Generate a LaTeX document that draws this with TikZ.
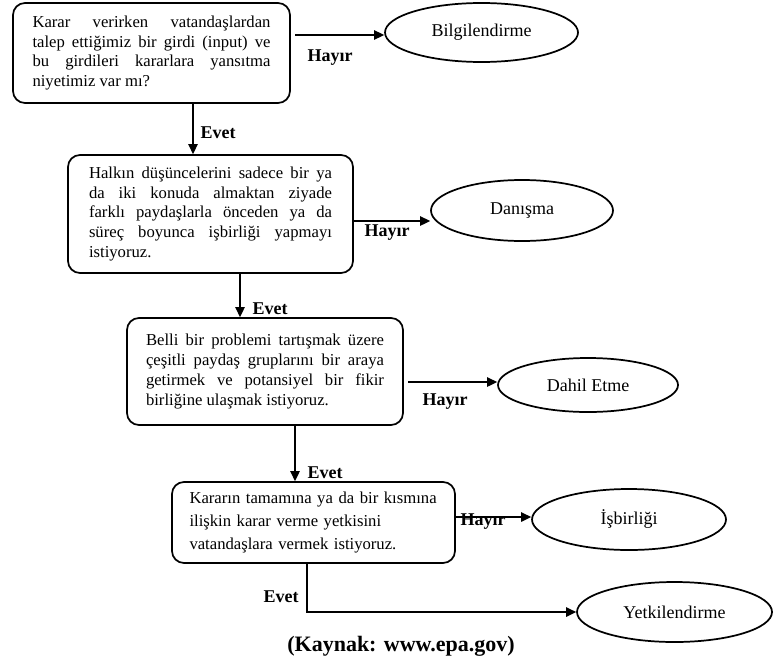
\documentclass[tikz,border=0pt]{standalone}
\usepackage{fontspec}
\setmainfont{Liberation Serif}
\usetikzlibrary{shapes.geometric,arrows.meta}

\def\px{.75pt}
\def\lw{1.3pt}
\def\metin{\fontsize{12.5}{14.8}\selectfont}
\def\elipsf{\fontsize{13.5}{16}\selectfont}
\def\etiketf{\fontsize{13.5}{16}\selectfont\bfseries}

\begin{document}
\begin{tikzpicture}[x=\px, y=-\px,
  kutu/.style={draw, line width=\lw, rounded corners=9pt, inner sep=0pt, font=\metin},
  elips/.style={draw, ellipse, line width=\lw, inner sep=0pt, font=\elipsf},
  ok/.style={line width=\lw, -{Triangle[length=7.5pt,width=7pt]}},
  etiket/.style={font=\etiketf, inner sep=0pt}]
\useasboundingbox (0,0) rectangle (773,660);

\node[kutu, minimum width=207.75pt, minimum height=75pt, text width=178.5pt, align=justify]
  (soru1) at (151.5,53) {Karar verirken vatandaşlardan\linebreak talep ettiğimiz bir girdi (input) ve\linebreak bu girdileri kararlara yansıtma\linebreak niyetimiz var mı?};
\node[kutu, minimum width=213.75pt, minimum height=88.5pt, text width=182.25pt, align=justify]
  (soru2) at (210.5,214) {Halkın düşüncelerini sadece bir ya\linebreak da iki konuda almaktan ziyade\linebreak farklı paydaşlarla önceden ya da\linebreak süreç boyunca işbirliği yapmayı\linebreak istiyoruz.};
\node[kutu, minimum width=207pt, minimum height=80.25pt, text width=178.5pt, align=justify]
  (soru3) at (265,371.5) {Belli bir problemi tartışmak üzere\linebreak çeşitli paydaş gruplarını bir araya\linebreak getirmek ve potansiyel bir fikir\linebreak birliğine ulaşmak istiyoruz.};
\node[kutu, minimum width=212.25pt, minimum height=60.75pt, text width=186pt, align=left,
  font=\fontsize{12.5}{16.9}\selectfont]
  (soru4) at (313.5,522.5) {Kararın tamamına ya da bir kısmına\\ ilişkin karar verme yetkisini\\ vatandaşlara vermek istiyoruz.};

\node[elips, minimum width=144.75pt, minimum height=44.25pt] (bilgi) at (481.5,32.5) {Bilgilendirme};
\node[elips, minimum width=136.5pt, minimum height=45.75pt] (danisma) at (522,210.5) {Danışma};
\node[elips, minimum width=135pt, minimum height=40.5pt] (dahil) at (588,385) {Dahil Etme};
\node[elips, minimum width=145.5pt, minimum height=45.75pt] (isbir) at (629,519.5) {İşbirliği\hspace{50pt}};
\node[elips, minimum width=146.25pt, minimum height=45pt] (yetki) at (674.5,612) {Yetkilendirme};

\coordinate (k1) at (295,35);
\coordinate (k2) at (353,221);
\coordinate (k3) at (408,382);
\coordinate (k4) at (456,517);
\draw[ok] (k1) -- (k1 -| bilgi.west);
\draw[ok] (k2) -- (k2 -| danisma.west);
\draw[ok] (k3) -- (k3 -| dahil.west);
\draw[ok] (k4) -- (k4 -| isbir.west);

\coordinate (d1) at (193,0);
\coordinate (d2) at (240,0);
\coordinate (d3) at (295,0);
\coordinate (d4) at (307,0);
\draw[ok] (soru1.south -| d1) -- (soru2.north -| d1);
\draw[ok] (soru2.south -| d2) -- (soru3.north -| d2);
\draw[ok] (soru3.south -| d3) -- (soru4.north -| d3);
\draw[ok] (soru4.south -| d4) |- (yetki.west);

\node[etiket] (h1) at (330,58) {Hayır};
\node[etiket] (h2) at (387,233) {Hayır};
\node[etiket] (h3) at (445,402) {Hayır};
\node[etiket] (h4) at (483,522) {Hayır};
\node[etiket] (e1) at (218,133) {Evet};
\node[etiket] (e2) at (270,309) {Evet};
\node[etiket] (e3) at (325,473) {Evet};
\node[etiket] (e4) at (281,597) {Evet};

\node[font=\fontsize{16.5}{20}\selectfont\bfseries] (kaynak) at (401,646) {(Kaynak: www.epa.gov)};
\end{tikzpicture}
\end{document}
